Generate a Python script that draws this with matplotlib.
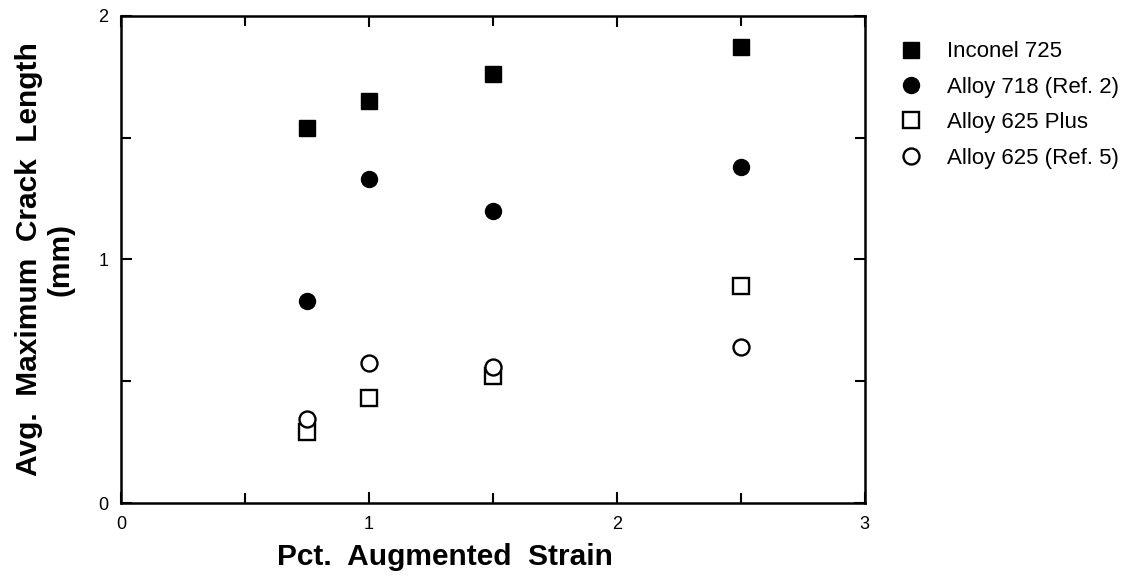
import matplotlib.pyplot as plt
from matplotlib.ticker import MultipleLocator

plt.rcParams['font.family'] = ['Liberation Sans', 'DejaVu Sans']

strain = [0.75, 1.0, 1.5, 2.5]
inconel_725 = [1.54, 1.65, 1.76, 1.87]
alloy_718 = [0.83, 1.33, 1.20, 1.38]
alloy_625_plus = [0.29, 0.43, 0.52, 0.89]
alloy_625 = [0.345, 0.575, 0.56, 0.64]

labels = ["Inconel 725", "Alloy 718 (Ref. 2)", "Alloy 625 Plus", "Alloy 625 (Ref. 5)"]

fig = plt.figure(figsize=(11.25, 5.85), dpi=100)
ax = fig.add_axes([0.1076, 0.140, 0.661, 0.833])

ms = 11.5
ax.plot(strain, inconel_725, ls='none', marker='s', ms=ms, color='black', label=labels[0])
ax.plot(strain, alloy_718, ls='none', marker='o', ms=ms, color='black', label=labels[1])
ax.plot(strain, alloy_625_plus, ls='none', marker='s', ms=ms, mfc='white', mec='black', mew=1.7, label=labels[2])
ax.plot(strain, alloy_625, ls='none', marker='o', ms=ms, mfc='white', mec='black', mew=1.7, label=labels[3])

ax.set_xlim(0, 3)
ax.set_ylim(0, 2)
ax.xaxis.set_major_locator(MultipleLocator(1))
ax.xaxis.set_minor_locator(MultipleLocator(0.5))
ax.yaxis.set_major_locator(MultipleLocator(1))
ax.yaxis.set_minor_locator(MultipleLocator(0.5))
ax.tick_params(which='both', direction='in', top=True, right=True, width=1.5, labelsize=13)
ax.tick_params(which='major', length=8, pad=9)
ax.tick_params(which='minor', length=7)
for s in ax.spines.values():
	s.set_linewidth(1.8)

# x label sits left of centre in the original
ax.set_xlabel("Pct.  Augmented  Strain", fontsize=21.5, fontweight='bold', ha='left')
ax.xaxis.set_label_coords((277 - 121) / 744, -0.082)
ax.set_ylabel("Avg.  Maximum  Crack  Length\n(mm)", fontsize=21.5, fontweight='bold', linespacing=1.2)
ax.yaxis.set_label_coords(-0.062, 0.5)

ax.legend(loc='upper left', bbox_to_anchor=(0.7825, 0.9635), bbox_transform=fig.transFigure,
	frameon=False, fontsize=16, handletextpad=1.1, labelspacing=0.65, handlelength=1.0, markerscale=1.0)

plt.savefig("out.png", dpi=100)
